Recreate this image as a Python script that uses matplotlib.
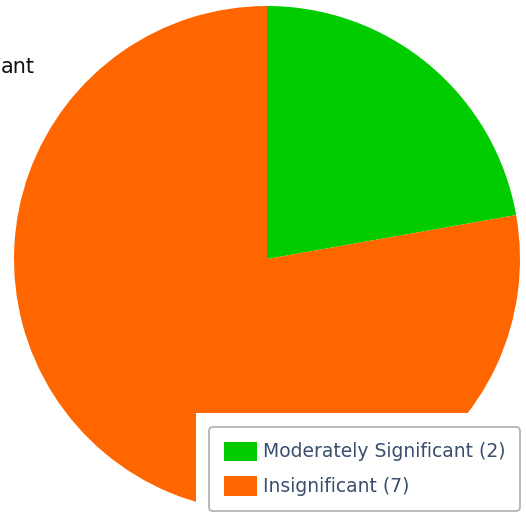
import matplotlib
matplotlib.use("Agg")
import matplotlib.pyplot as plt
from matplotlib.patches import Rectangle

categories = ["Moderately Significant", "Insignificant"]
counts = [2, 7]
colors = ["#00CC00", "#FF6600"]
labels = [f"{c} ({n})" for c, n in zip(categories, counts)]

W, H = 526, 512
fig = plt.figure(figsize=(W / 100, H / 100), dpi=100)
ax = fig.add_axes([0, 0, 1, 1])

wedges, _ = ax.pie(counts, colors=colors, startangle=90, counterclock=False,
                   center=(267, H - 259), radius=253,
                   wedgeprops=dict(linewidth=0))
ax.set_xlim(0, W)
ax.set_ylim(0, H)
ax.set_aspect("equal")
ax.axis("off")

# white legend container
ax.add_patch(Rectangle((196, 0), W - 196, H - 413, facecolor="white",
                       edgecolor="none", zorder=5))

leg = ax.legend(wedges, labels, loc="lower right",
                bbox_to_anchor=(520 / W, 1 / H), bbox_transform=fig.transFigure,
                borderaxespad=0, fontsize=13.5, frameon=True, fancybox=True,
                handlelength=1.8, handleheight=1.2, handletextpad=0.3,
                labelspacing=0.8, borderpad=0.78, labelcolor="#3a4f6e")
leg.get_frame().set_edgecolor("#9a9a9a")
leg.get_frame().set_linewidth(1.2)
leg.set_zorder(10)

fig.text(35 / W, 1 - 67 / H, "ant", ha="right", va="center", fontsize=15,
         color="#111111")

fig.savefig("out.png", dpi=100)
